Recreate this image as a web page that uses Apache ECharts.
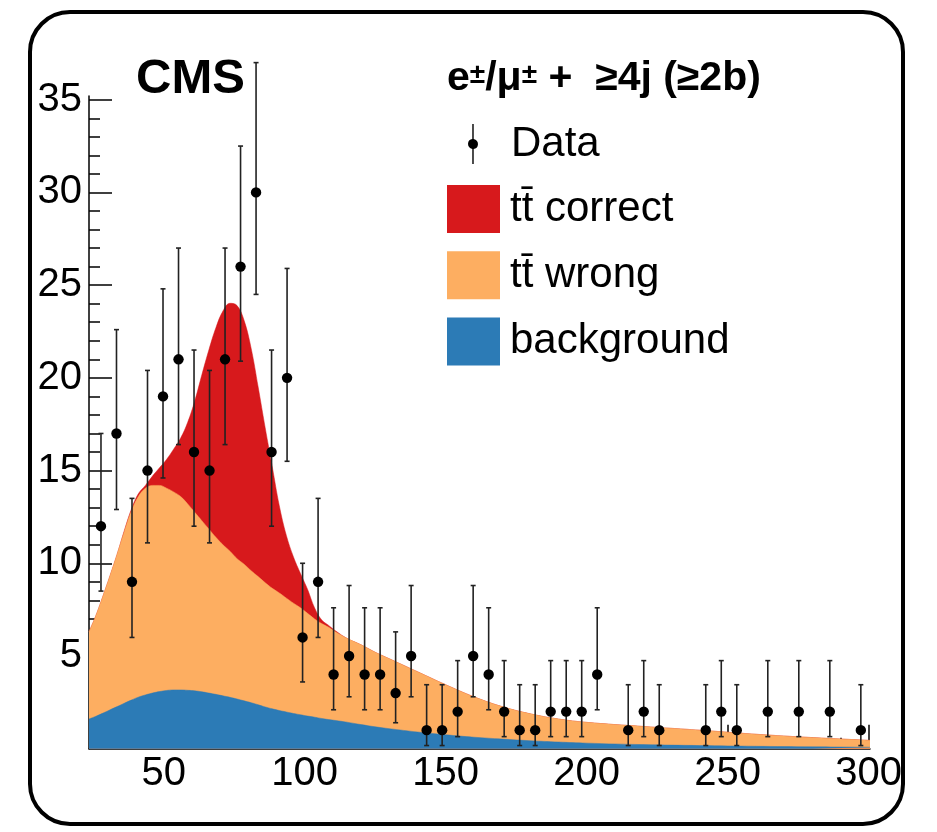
<!DOCTYPE html>
<html>
<head>
<meta charset="utf-8">
<script src="https://cdn.jsdelivr.net/npm/echarts@6/dist/echarts.min.js"></script>
<style>
  html, body { margin: 0; padding: 0; background: #fff; }
  #chart { width: 937px; height: 832px; }
</style>
</head>
<body>
<div id="chart"></div>
<script>
// bins: 50 bins from 25 to 300
const binStart = 25;
const binWidth = 5.5;
const counts = [12, 17, 9, 15, 19, 21, 16, 15, 21, 26, 30, 16, 20, 6, 9, 4, 5, 4, 4, 3,
  5, 1, 1, 2, 5, 4, 2, 1, 1, 2, 2, 2, 4, null, 1, 2, 1, null, null, 1,
  2, 1, null, 2, null, 2, null, 2, null, 1];
const errLow = [8.5, 12.9, 6.0, 11.1, 14.6, 16.4, 12.0, 11.1, 16.4, 20.9, 24.5, 12.0, 15.5, 3.6, 6.0, 2.1, 2.8, 2.1, 2.1, 1.4,
  2.8, 0.17, 0.17, 0.65, 2.8, 2.1, 0.65, 0.17, 0.17, 0.65, 0.65, 0.65, 2.1, null, 0.17, 0.65, 0.17, null, null, 0.17,
  0.65, 0.17, null, 0.65, null, 0.65, null, 0.65, null, 0.17];
const errHigh = [17.0, 22.6, 13.5, 20.4, 24.8, 27.0, 21.5, 20.4, 27.0, 32.5, 37.0, 21.5, 25.9, 10.0, 13.5, 7.6, 8.8, 7.6, 7.6, 6.3,
  8.8, 3.45, 3.45, 4.75, 8.8, 7.6, 4.75, 3.45, 3.45, 4.75, 4.75, 4.75, 7.6, null, 3.45, 4.75, 3.45, null, null, 3.45,
  4.75, 3.45, null, 4.75, null, 4.75, null, 4.75, null, 3.45];

// template curves, read as cumulative top edges
const curveX = [23.5, 26, 28.5, 31, 33.5, 36, 38.5, 41, 43.5, 46, 48.5, 51, 53.5, 56, 58.5, 61, 63.5, 66, 68.5, 71,
  73.5, 76, 78.5, 81, 83.5, 86, 88.5, 91, 93.5, 96, 98.5, 101, 103.5, 106, 108.5, 111, 115, 120, 125, 130,
  140, 150, 160, 170, 180, 190, 200, 220, 240, 260, 280, 300.5];
const backgroundTop = [1.6, 1.75, 1.92, 2.1, 2.27, 2.45, 2.62, 2.78, 2.9, 3.0, 3.08, 3.14, 3.17, 3.17, 3.15, 3.12, 3.07, 3.0, 2.93, 2.85,
  2.77, 2.68, 2.58, 2.48, 2.37, 2.25, 2.15, 2.06, 1.98, 1.9, 1.83, 1.76, 1.7, 1.63, 1.57, 1.52, 1.43, 1.3, 1.18, 1.08,
  0.9, 0.75, 0.62, 0.52, 0.43, 0.36, 0.3, 0.22, 0.17, 0.13, 0.1, 0.08];
const wrongTop = [6.3, 7.2, 8.25, 9.35, 10.5, 11.7, 12.8, 13.6, 14.05, 14.2, 14.2, 14.05, 13.85, 13.6, 13.2, 12.75, 12.3, 11.85, 11.4, 11.0,
  10.65, 10.25, 9.95, 9.6, 9.28, 8.95, 8.65, 8.4, 8.12, 7.85, 7.6, 7.3, 7.0, 6.75, 6.55, 6.3, 5.95, 5.6, 5.2, 4.85,
  4.15, 3.45, 2.8, 2.27, 1.88, 1.6, 1.42, 1.2, 1.0, 0.78, 0.6, 0.45];
const correctTop = [6.3, 7.2, 8.25, 9.35, 10.5, 11.75, 12.9, 13.75, 14.2, 14.7, 15.15, 15.6, 16.15, 16.75, 17.6, 18.75, 20.15, 21.5, 22.7, 23.6,
  24.02, 23.9, 23.1, 21.6, 19.5, 17.3, 15.2, 13.1, 11.5, 10.35, 9.45, 8.6, 7.6, 6.95, 6.65, 6.35, 5.95, 5.6, 5.2, 4.85,
  4.15, 3.45, 2.8, 2.27, 1.88, 1.6, 1.42, 1.2, 1.0, 0.78, 0.6, 0.45];

const xMajorTicks = [50, 100, 150, 200, 250, 300];
const xMinorTicks = [30, 40, 60, 70, 80, 90, 110, 120, 130, 140, 160, 170, 180, 190, 210, 220, 230, 240, 260, 270, 280, 290];
const yMajorTicks = [5, 10, 15, 20, 25, 30, 35];
const yMinorTicks = [1, 2, 3, 4, 6, 7, 8, 9, 11, 12, 13, 14, 16, 17, 18, 19, 21, 22, 23, 24, 26, 27, 28, 29, 31, 32, 33, 34];

const colors = { correct: "#d7191c", wrong: "#fdae61", background: "#2c7bb6" };
const font = "Liberation Sans, Arial, Helvetica, sans-serif";
const TTBAR = "t\u0074\u0304";

const chart = echarts.init(document.getElementById("chart"), null, { renderer: "canvas" });

const pointData = [];
counts.forEach(function (n, k) {
  if (n === null) { return; }
  pointData.push([binStart + binWidth * (k + 0.5), n, errLow[k], errHigh[k]]);
});

function curve(tops) {
  return curveX.map(function (x, i) { return [x, tops[i]]; });
}

function areaSeries(name, color, tops, z) {
  return {
    name: name,
    type: "line",
    data: curve(tops),
    smooth: 0.4,
    showSymbol: false,
    symbol: "none",
    z: z,
    itemStyle: { color: color },
    lineStyle: { width: 0.5, color: color },
    areaStyle: { color: color, opacity: 1 },
    silent: true
  };
}

const dataIcon = "path://M4.3,0 L5.7,0 L5.7,15.05 A5,5 0 0 1 5.7,24.95 L5.7,40 L4.3,40 L4.3,24.95 A5,5 0 0 1 4.3,15.05 Z";

const axisLineStyle = { color: "#000", width: 1.5 };

chart.setOption({
  animation: false,
  textStyle: { fontFamily: font },
  title: [
    {
      text: "CMS",
      left: 136,
      top: 55,
      padding: 0,
      textStyle: { fontFamily: font, fontWeight: "bold", fontSize: 49, color: "#000" }
    },
    {
      text: "{b|e}{sup|\u00b1}{n|/\u03bc}{sup|\u00b1}{b| +  \u22654j (\u22652b)}",
      left: 447,
      top: 58,
      padding: 0,
      textStyle: {
        rich: {
          b: { fontFamily: font, fontWeight: "bold", fontSize: 41, color: "#000" },
          n: { fontFamily: font, fontSize: 41, color: "#000" },
          sup: { fontFamily: font, fontSize: 28, lineHeight: 28, color: "#000", verticalAlign: "top", padding: [3, 0, 0, 0] }
        }
      }
    }
  ],
  legend: [
    {
      data: [{ name: "Data", icon: dataIcon }],
      left: 468,
      top: 123,
      padding: 0,
      itemWidth: 10,
      itemHeight: 40,
      selectedMode: false,
      itemStyle: { color: "#000", borderWidth: 0 },
      textStyle: { fontFamily: font, fontSize: 42, color: "#000", padding: [0, 0, 0, 28] }
    },
    {
      data: [
        { name: TTBAR + " correct", icon: "rect" },
        { name: TTBAR + " wrong", icon: "rect" },
        { name: "background", icon: "rect" }
      ],
      orient: "vertical",
      left: 447,
      top: 185,
      padding: 0,
      itemWidth: 53,
      itemHeight: 48,
      itemGap: 18.3,
      selectedMode: false,
      itemStyle: { borderWidth: 0 },
      lineStyle: { width: 0 },
      textStyle: { fontFamily: font, fontSize: 42, color: "#000", padding: [0, 0, 0, 5] }
    }
  ],
  grid: { left: 89, right: 67, top: 96, bottom: 83.3 },
  xAxis: [
    {
      type: "value",
      min: 23.5,
      max: 300.5,
      axisLine: { show: true, onZero: false, lineStyle: axisLineStyle },
      axisTick: { show: true, inside: true, length: 24, customValues: xMajorTicks, lineStyle: axisLineStyle },
      axisLabel: { customValues: xMajorTicks, color: "#000", fontSize: 40, fontFamily: font, margin: 5 },
      splitLine: { show: false }
    },
    {
      type: "value",
      min: 23.5,
      max: 300.5,
      position: "bottom",
      axisLine: { show: false },
      axisTick: { show: true, inside: true, length: 11, customValues: xMinorTicks, lineStyle: axisLineStyle },
      axisLabel: { show: false },
      splitLine: { show: false }
    }
  ],
  yAxis: [
    {
      type: "value",
      min: 0,
      max: 35.2,
      axisLine: { show: true, onZero: false, lineStyle: axisLineStyle },
      axisTick: { show: true, inside: true, length: 23, customValues: yMajorTicks, lineStyle: axisLineStyle },
      axisLabel: { customValues: yMajorTicks, color: "#000", fontSize: 40, fontFamily: font, margin: 7 },
      splitLine: { show: false }
    },
    {
      type: "value",
      min: 0,
      max: 35.2,
      position: "left",
      axisLine: { show: false },
      axisTick: { show: true, inside: true, length: 11, customValues: yMinorTicks, lineStyle: axisLineStyle },
      axisLabel: { show: false },
      splitLine: { show: false }
    }
  ],
  series: [
    areaSeries(TTBAR + " correct", colors.correct, correctTop, 1),
    areaSeries(TTBAR + " wrong", colors.wrong, wrongTop, 2),
    areaSeries("background", colors.background, backgroundTop, 3),
    {
      name: "Data",
      type: "custom",
      z: 10,
      clip: false,
      itemStyle: { color: "#000" },
      data: pointData,
      renderItem: function (params, api) {
        const x = api.value(0);
        const c = api.coord([x, api.value(1)]);
        const lo = api.coord([x, api.value(2)]);
        const hi = api.coord([x, api.value(3)]);
        const lineStyle = { stroke: "#222", lineWidth: 1.6 };
        return {
          type: "group",
          children: [
            { type: "line", shape: { x1: c[0], y1: hi[1], x2: c[0], y2: lo[1] }, style: lineStyle },
            { type: "line", shape: { x1: c[0] - 2.5, y1: hi[1], x2: c[0] + 2.5, y2: hi[1] }, style: lineStyle },
            { type: "line", shape: { x1: c[0] - 2.5, y1: lo[1], x2: c[0] + 2.5, y2: lo[1] }, style: lineStyle },
            { type: "circle", shape: { cx: c[0], cy: c[1], r: 5.2 }, style: { fill: "#000" } }
          ]
        };
      }
    }
  ],
  graphic: [
    {
      type: "rect",
      silent: true,
      z: 100,
      shape: { x: 30, y: 12, width: 873, height: 812, r: 40 },
      style: { fill: "none", stroke: "#000", lineWidth: 4 }
    }
  ]
});
</script>
</body>
</html>
